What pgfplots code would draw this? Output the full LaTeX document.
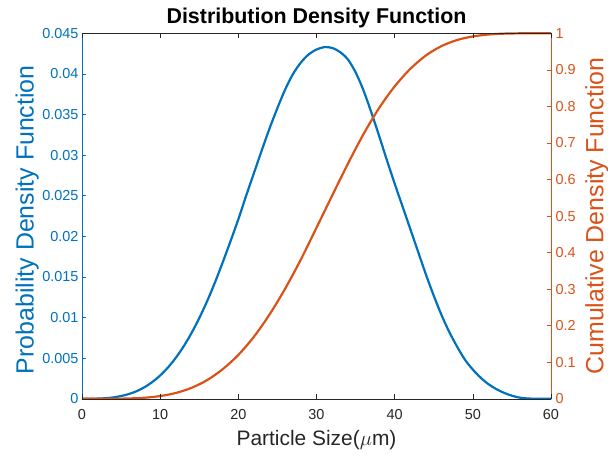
\documentclass[border=0pt]{standalone}
\usepackage{pgfplots}
\pgfplotsset{compat=1.18}
\usepackage{pgfplotstable}
\usepackage{fontspec}
\setmainfont{Liberation Sans}
\usetikzlibrary{calc}
\definecolor{mblue}{RGB}{0,114,189}
\definecolor{morange}{RGB}{217,83,25}
\definecolor{mgray}{RGB}{38,38,38}

\pgfplotstableread{
x y
0 0
1 0.000005
2 0.000025
3 0.000075
4 0.00017
5 0.00034
6 0.00059
7 0.00094
8 0.00143
9 0.00207
10 0.00287
11 0.00386
12 0.00505
13 0.00645
14 0.00808
15 0.00993
16 0.0120
17 0.0143
18 0.0168
19 0.0194
20 0.0221
21 0.0250
22 0.0278
23 0.0306
24 0.0333
25 0.0358
26 0.0381
27 0.0400
28 0.0414
29 0.0424
30 0.0430
31 0.0433
32 0.0432
33 0.0427
34 0.0418
35 0.0402
36 0.0380
37 0.0353
38 0.0324
39 0.0294
40 0.0265
41 0.0237
42 0.0209
43 0.0181
44 0.0153
45 0.0127
46 0.0103
47 0.0082
48 0.0064
49 0.0048
50 0.0036
51 0.0026
52 0.0018
53 0.0012
54 0.00073
55 0.00038
56 0.00014
57 0.00004
58 0.00001
59 0
60 0
}\pdfdata

\pgfplotstableread{
x y
0 0
2 0.00001
4 0.00016
6 0.0009
8 0.0029
10 0.0075
12 0.0159
14 0.0299
16 0.0510
18 0.0810
20 0.1201
22 0.1699
24 0.2309
26 0.3017
28 0.3812
30 0.4681
32 0.5558
34 0.6423
36 0.7237
38 0.7952
40 0.8547
42 0.9027
44 0.9394
46 0.9651
48 0.9817
50 0.9914
52 0.9967
54 0.9991
56 0.9999
58 1.0000
60 1.0000
}\cdfdata

\begin{document}
\begin{tikzpicture}
\pgfplotsset{
  common/.style={
    scale only axis, width=469bp, height=365.5bp,
    xmin=0, xmax=60,
    tick align=inside, major tick length=4.5bp,
    minor tick num=0,
    scaled x ticks=false, scaled y ticks=false,
    /pgf/number format/assume math mode=true,
    ticklabel style={font=\fontsize{14.5}{16}\selectfont},
    clip=false,
  }
}
% left axis: PDF
\begin{axis}[common,
  hide x axis,
  axis y line*=left,
  ymin=0, ymax=0.045,
  ytick={0,0.005,0.01,0.015,0.02,0.025,0.03,0.035,0.04,0.045},
  yticklabels={0,0.005,0.01,0.015,0.02,0.025,0.03,0.035,0.04,0.045},
  y axis line style={mblue, line width=0.6bp},
  tick style={mblue, line width=0.6bp},
  yticklabel style={mblue},
  ylabel={Probability Density Function},
  every axis y label/.style={at={(axis description cs:-0.117,0.49)}, anchor=center, rotate=90,
    mblue, font=\fontsize{25}{28}\selectfont},
]
\addplot[mblue, line width=2.2bp, smooth] table[x=x,y=y] {\pdfdata};
\end{axis}
% right axis: CDF
\begin{axis}[common,
  hide x axis,
  axis y line*=right,
  ymin=0, ymax=1,
  ytick={0,0.1,0.2,0.3,0.4,0.5,0.6,0.7,0.8,0.9,1},
  yticklabels={0,0.1,0.2,0.3,0.4,0.5,0.6,0.7,0.8,0.9,1},
  y axis line style={morange, line width=0.6bp},
  tick style={morange, line width=0.6bp},
  yticklabel style={morange, xshift=1bp},
  ylabel={Cumulative Density Function},
  every axis y label/.style={at={(axis description cs:1.098,0.5)}, anchor=center, rotate=90,
    morange, font=\fontsize{25}{28}\selectfont},
]
\addplot[morange, line width=2.2bp, smooth] table[x=x,y=y] {\cdfdata};
\end{axis}
% x axes, title
\begin{axis}[common,
  name=main,
  hide y axis,
  axis x line*=box,
  ymin=0, ymax=1,
  xtick={0,10,20,30,40,50,60},
  xticklabels={0,10,20,30,40,50,60},
  xtick pos=both,
  xticklabel pos=bottom,
  x axis line style={mgray, line width=0.6bp},
  tick style={mgray, line width=0.6bp},
  xticklabel style={mgray, yshift=-7bp},
  xlabel={Particle Size($\mu$m)},
  every axis x label/.style={at={(axis description cs:0.5,-0.127)}, anchor=base,
    mgray, font=\fontsize{21}{24}\selectfont},
  title={Distribution Density Function},
  every axis title/.style={at={(axis description cs:0.5,1.028)}, anchor=base,
    black, font=\bfseries\fontsize{21.5}{24}\selectfont},
]
\end{axis}
\pgfresetboundingbox
\path[use as bounding box] ($(main.south west)+(-82bp,-57.5bp)$) rectangle ($(main.north east)+(57bp,33.3bp)$);
\end{tikzpicture}
\end{document}
